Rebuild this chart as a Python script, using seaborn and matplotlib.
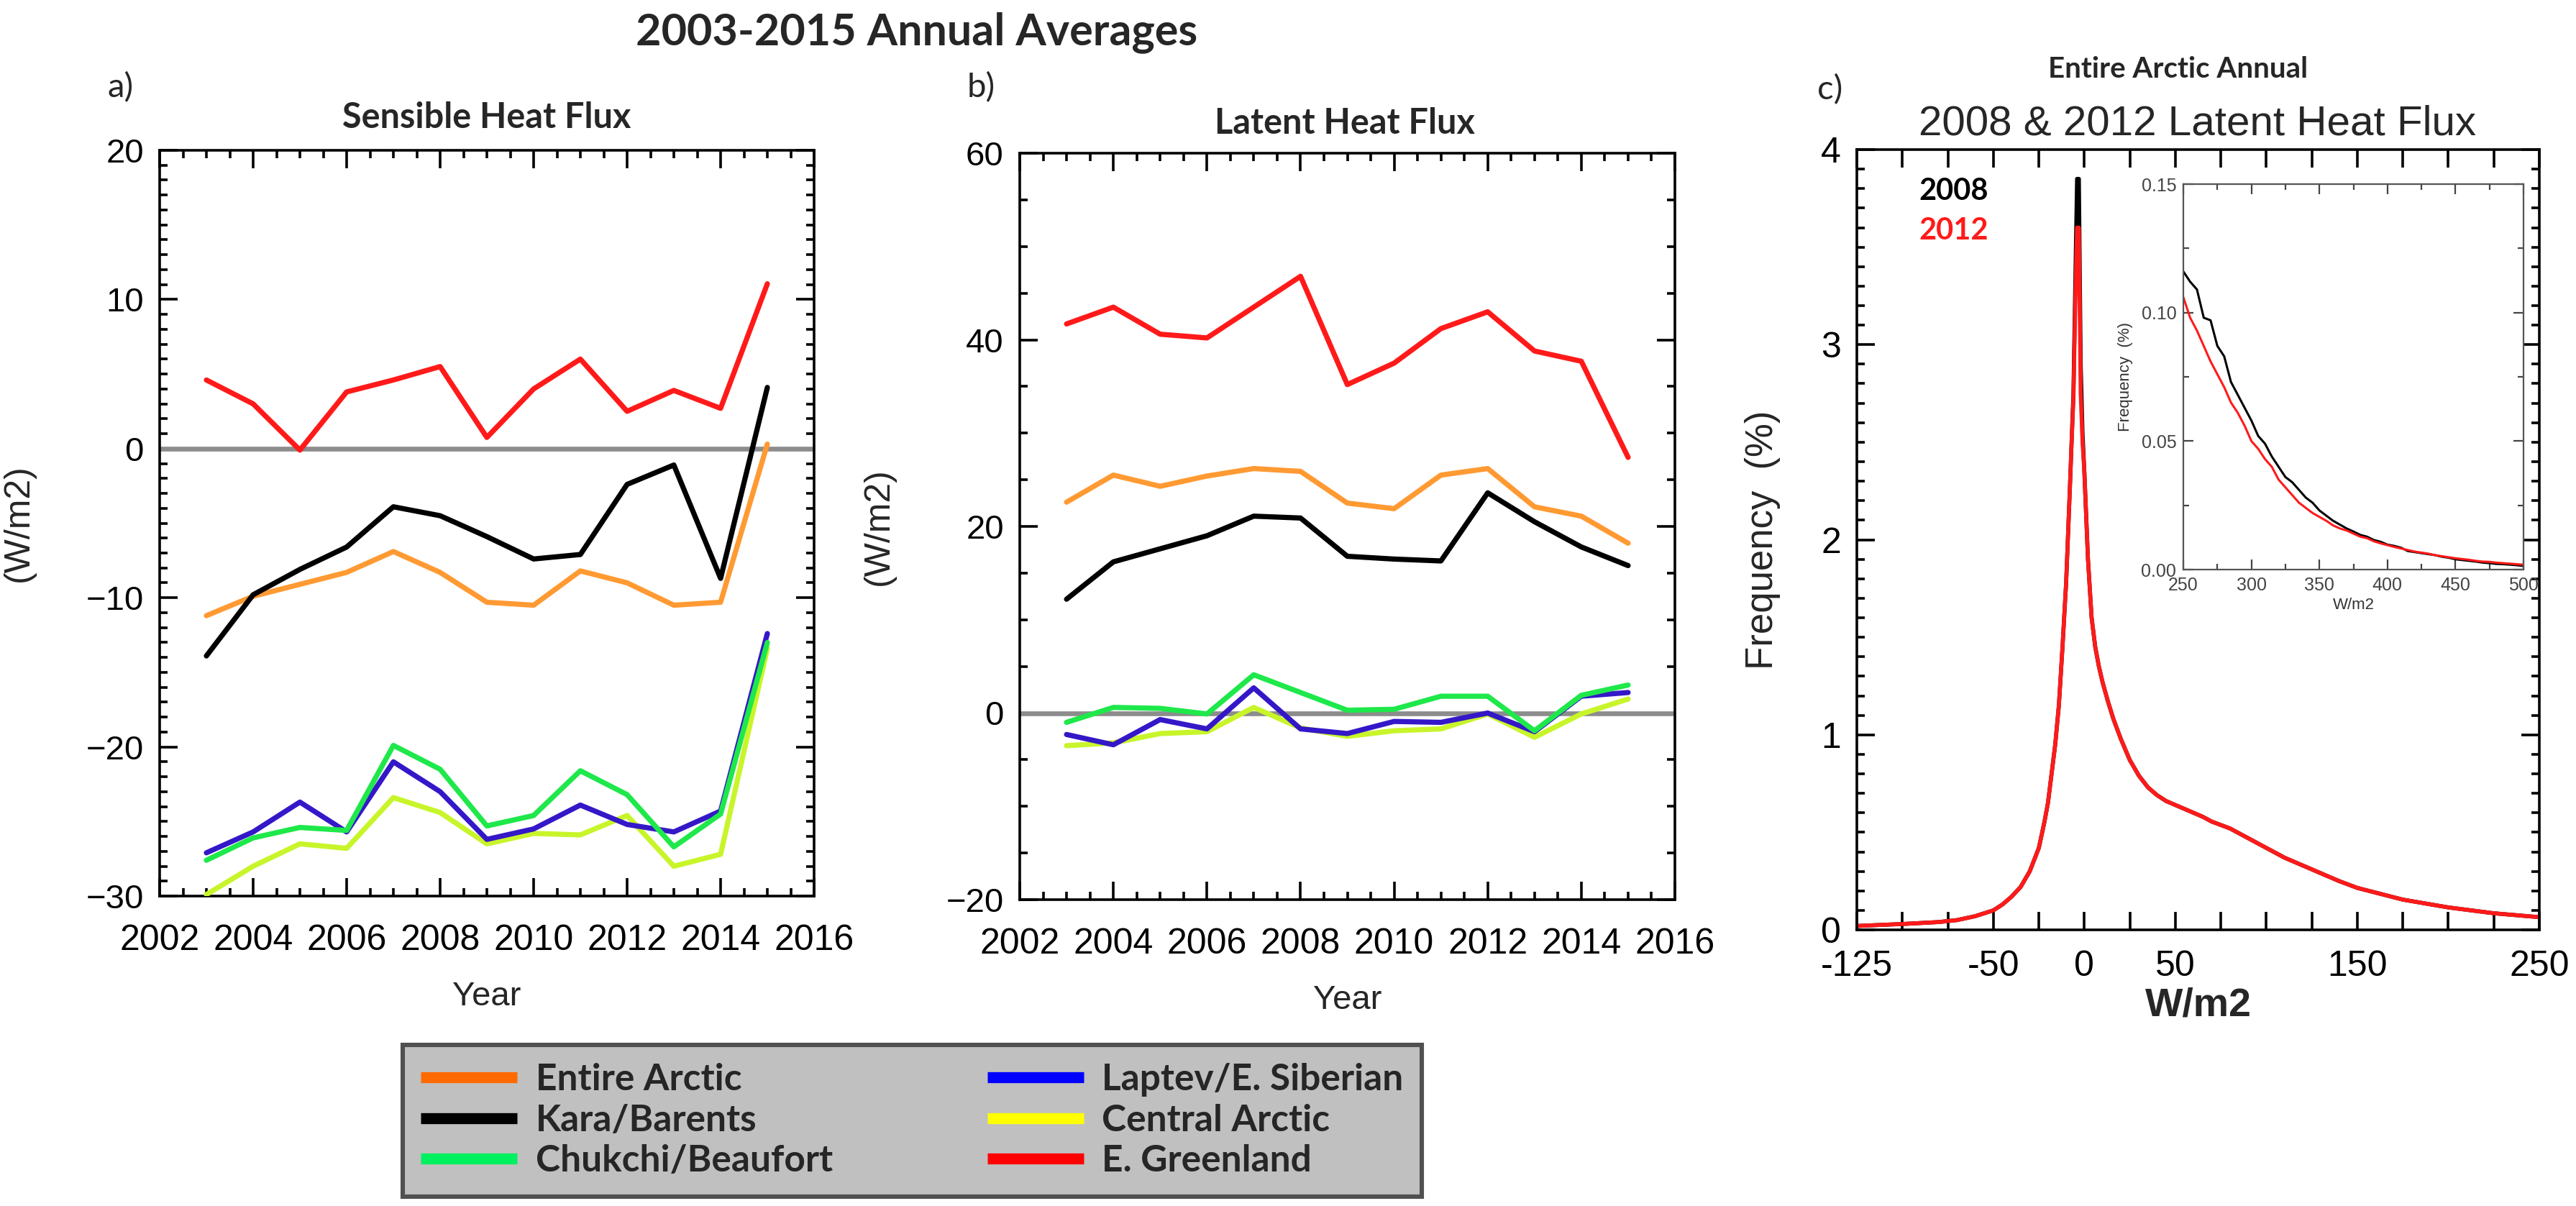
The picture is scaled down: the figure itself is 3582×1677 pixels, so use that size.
import seaborn as sns
import pandas as pd
import matplotlib.pyplot as plt
import numpy as np
from matplotlib.lines import Line2D
from matplotlib.ticker import MultipleLocator, FuncFormatter

#-----------------------------------------------------------------------------------------------------------------------
"""Data read off the figure"""
years = list(range(2003, 2016))
regions = ['Entire Arctic', 'Kara/Barents', 'Chukchi/Beaufort',
           'Laptev/E. Siberian', 'Central Arctic', 'E. Greenland']

#a) Sensible heat flux (W/m2)
sh_entire = [-11.2, -9.9, -9.1, -8.3, -6.9, -8.3, -10.3, -10.5, -8.2, -9.0, -10.5, -10.3, 0.3]
sh_kara = [-13.9, -9.8, -8.1, -6.6, -3.9, -4.5, -5.9, -7.4, -7.1, -2.4, -1.1, -8.7, 4.1]
sh_chukchi = [-27.6, -26.1, -25.4, -25.6, -19.9, -21.5, -25.3, -24.6, -21.6, -23.2, -26.7, -24.5, -13.0]
sh_laptev = [-27.1, -25.7, -23.7, -25.7, -21.0, -23.0, -26.2, -25.5, -23.9, -25.2, -25.7, -24.3, -12.4]
sh_central = [-29.9, -28.0, -26.5, -26.8, -23.4, -24.4, -26.5, -25.8, -25.9, -24.6, -28.0, -27.2, -13.4]
sh_greenland = [4.6, 3.0, -0.1, 3.8, 4.6, 5.5, 0.75, 4.0, 6.0, 2.5, 3.9, 2.7, 11.05]

#b) Latent heat flux (W/m2)
lh_entire = [22.6, 25.5, 24.3, 25.4, 26.2, 25.9, 22.5, 21.9, 25.5, 26.2, 22.1, 21.1, 18.2]
lh_kara = [12.2, 16.2, 17.6, 19.0, 21.1, 20.9, 16.8, 16.5, 16.3, 23.6, 20.5, 17.8, 15.8]
lh_chukchi = [-1.0, 0.6, 0.5, -0.1, 4.1, 2.2, 0.3, 0.4, 1.8, 1.8, -1.9, 1.9, 3.0]
lh_laptev = [-2.3, -3.4, -0.7, -1.7, 2.7, -1.7, -2.2, -0.9, -1.0, 0.0, -2.0, 1.8, 2.2]
lh_central = [-3.5, -3.2, -2.2, -2.0, 0.6, -1.6, -2.5, -1.9, -1.7, -0.1, -2.6, -0.1, 1.5]
lh_greenland = [41.7, 43.5, 40.6, 40.2, 43.5, 46.8, 35.2, 37.5, 41.2, 43.0, 38.8, 37.7, 27.4]

#c) Frequency distribution of latent heat flux, entire Arctic (%)
flux_bins = [-125, -100, -80, -70, -60, -50, -45, -40, -35, -30, -25, -22, -20, -18, -16, -14, -12,
             -10, -8, -7, -6, -5, -4, -3, -2, -1, 0, 2, 4, 6, 8, 10, 13, 16, 20, 25, 30, 35, 40,
             45, 50, 55, 60, 65, 70, 80, 90, 100, 110, 125, 140, 150, 175, 200, 225, 250]
freq_2008 = [0.02, 0.03, 0.04, 0.05, 0.07, 0.10, 0.13, 0.17, 0.22, 0.30, 0.42, 0.55, 0.65, 0.80, 0.95,
             1.15, 1.45, 1.78, 2.25, 2.5, 2.75, 3.3, 3.85, 3.85, 2.9, 2.55, 2.35, 1.9, 1.6, 1.45,
             1.35, 1.27, 1.17, 1.08, 0.98, 0.87, 0.79, 0.73, 0.69, 0.66, 0.64, 0.62, 0.60, 0.58,
             0.555, 0.52, 0.47, 0.42, 0.37, 0.31, 0.25, 0.215, 0.155, 0.115, 0.085, 0.065]
freq_2012 = [0.02, 0.03, 0.04, 0.05, 0.07, 0.10, 0.13, 0.17, 0.22, 0.30, 0.42, 0.55, 0.65, 0.80, 0.95,
             1.15, 1.45, 1.78, 2.25, 2.5, 2.72, 3.2, 3.6, 3.6, 2.75, 2.5, 2.35, 1.9, 1.6, 1.45,
             1.35, 1.27, 1.17, 1.08, 0.98, 0.87, 0.79, 0.73, 0.69, 0.66, 0.64, 0.62, 0.60, 0.58,
             0.555, 0.52, 0.47, 0.42, 0.37, 0.31, 0.25, 0.215, 0.155, 0.115, 0.085, 0.065]

#Inset: tail 250-500 W/m2
tail_bins = list(range(250, 505, 5))
tail_2008 = [0.116, 0.112, 0.109, 0.098, 0.097, 0.087, 0.083, 0.073, 0.068, 0.063, 0.058, 0.052, 0.049,
             0.044, 0.040, 0.036, 0.034, 0.031, 0.028, 0.026, 0.023, 0.021, 0.019, 0.0175, 0.016,
             0.0148, 0.0135, 0.0128, 0.0115, 0.0108, 0.0097, 0.0092, 0.0085, 0.0072, 0.0068, 0.0064,
             0.0060, 0.0056, 0.0050, 0.0046, 0.0040, 0.0037, 0.0034, 0.0031, 0.0027, 0.0025, 0.0022,
             0.0021, 0.0019, 0.0017, 0.0014]
tail_2012 = [0.106, 0.098, 0.093, 0.087, 0.081, 0.076, 0.071, 0.065, 0.061, 0.056, 0.050, 0.047, 0.043,
             0.040, 0.035, 0.032, 0.029, 0.026, 0.024, 0.022, 0.0205, 0.019, 0.0172, 0.016, 0.0152,
             0.0140, 0.0128, 0.0122, 0.0110, 0.0102, 0.0095, 0.0088, 0.0082, 0.0076, 0.0070, 0.0066,
             0.0062, 0.0056, 0.0052, 0.0048, 0.0044, 0.0041, 0.0038, 0.0034, 0.0031, 0.0030, 0.0027,
             0.0025, 0.0023, 0.0021, 0.0019]

#-----------------------------------------------------------------------------------------------------------------------
"""Building long tables for seaborn"""
sh_series = [sh_entire, sh_kara, sh_chukchi, sh_laptev, sh_central, sh_greenland]
lh_series = [lh_entire, lh_kara, lh_chukchi, lh_laptev, lh_central, lh_greenland]

def long_table(series):
    rows = []
    for name, vals in zip(regions, series):
        for yr, v in zip(years, vals):
            rows.append({'Year': yr, 'Flux': v, 'Region': name})
    return pd.DataFrame(rows)

df_sh = long_table(sh_series)
df_lh = long_table(lh_series)
df_pdf = pd.DataFrame({'W/m2': flux_bins * 2, 'Frequency': freq_2008 + freq_2012,
                       'Year': ['2008'] * len(flux_bins) + ['2012'] * len(flux_bins)})
df_tail = pd.DataFrame({'W/m2': tail_bins * 2, 'Frequency': tail_2008 + tail_2012,
                        'Year': ['2008'] * len(tail_bins) + ['2012'] * len(tail_bins)})

#-----------------------------------------------------------------------------------------------------------------------
"""Style"""
sns.set_style('ticks')
plt.rcParams['font.family'] = ['Liberation Sans', 'DejaVu Sans']
TitleFont = ['Lato', 'DejaVu Sans']

#Colours as they appear on the plotted lines
line_colors = {'Entire Arctic': '#ff9a33', 'Kara/Barents': '#000000', 'Chukchi/Beaufort': '#1ee84a',
               'Laptev/E. Siberian': '#3418c8', 'Central Arctic': '#c8f52a', 'E. Greenland': '#ff1a1a'}
#Colours used in the legend box
legend_colors = ['#ff6a00', '#000000', '#00f060', '#0000ff', '#ffff00', '#ff0000']
draw_order = ['Central Arctic', 'Laptev/E. Siberian', 'Chukchi/Beaufort', 'Entire Arctic',
              'Kara/Barents', 'E. Greenland']

W, H = 3582, 1677
fig = plt.figure(figsize=(W / 200, H / 200), dpi=200)
fig.patch.set_facecolor('white')

def box(x0, y0, x1, y1):
    return [x0 / W, 1 - y1 / H, (x1 - x0) / W, (y1 - y0) / H]

def fxy(x, y):
    return x / W, 1 - y / H

ax_a = fig.add_axes(box(222, 209, 1132, 1246))
ax_b = fig.add_axes(box(1418, 213, 2329, 1251))
ax_c = fig.add_axes(box(2582, 208, 3531, 1293))
ax_in = fig.add_axes(box(3036, 256, 3509, 792))

def idl_axes(ax, size=16, major=8, minor=4, width=1.3):
    for s in ax.spines.values():
        s.set_linewidth(width)
        s.set_color('black')
    ax.tick_params(which='both', direction='in', top=True, right=True, width=width, colors='black')
    ax.tick_params(which='major', length=major, labelsize=size)
    ax.tick_params(which='minor', length=minor)
    ax.grid(False)

#-----------------------------------------------------------------------------------------------------------------------
"""Panels a and b"""
for ax, df, ylim, ymaj, ymin in [(ax_a, df_sh, (-30, 20), 10, 1), (ax_b, df_lh, (-20, 60), 20, 5)]:
    ax.axhline(0, color='#8c8c8c', lw=2.4, zorder=1)
    sns.lineplot(data=df, x='Year', y='Flux', hue='Region', hue_order=draw_order,
                 palette=line_colors, linewidth=2.6, legend=False, ax=ax, zorder=3)
    ax.set_xlim(2002, 2016)
    ax.set_ylim(*ylim)
    ax.xaxis.set_major_locator(MultipleLocator(2))
    ax.xaxis.set_minor_locator(MultipleLocator(0.5))
    ax.yaxis.set_major_locator(MultipleLocator(ymaj))
    ax.yaxis.set_minor_locator(MultipleLocator(ymin))
    idl_axes(ax, size=17, major=9, minor=4)
    ax.tick_params(axis='x', which='major', pad=14, labelsize=18)
    ax.tick_params(axis='y', which='major', pad=8)
    ax.set_xlabel('Year', fontsize=17, labelpad=12)
    ax.set_ylabel('(W/m2)', fontsize=18)
    ax.yaxis.set_label_coords(-0.19, 0.5)

#-----------------------------------------------------------------------------------------------------------------------
"""Panel c"""
sns.lineplot(data=df_pdf, x='W/m2', y='Frequency', hue='Year', palette={'2008': 'black', '2012': '#ff1a1a'},
             linewidth=2.0, legend=False, ax=ax_c)
ax_c.set_xlim(-125, 250)
ax_c.set_ylim(0, 4)
ax_c.xaxis.set_major_locator(MultipleLocator(25))
shown = {-125, -50, 0, 50, 150, 250}
ax_c.xaxis.set_major_formatter(FuncFormatter(lambda v, p: f'{v:.0f}' if round(v) in shown else ''))
ax_c.yaxis.set_major_locator(MultipleLocator(1))
ax_c.yaxis.set_minor_locator(MultipleLocator(0.1))
idl_axes(ax_c, size=18, major=9, minor=4)
ax_c.tick_params(axis='x', which='major', pad=10)
ax_c.tick_params(axis='y', which='major', pad=8)
ax_c.set_xlabel('W/m2', fontsize=20, fontweight='bold', labelpad=2)
ax_c.set_ylabel('Frequency  (%)', fontsize=19)
ax_c.yaxis.set_label_coords(-0.112, 0.5)

fig.text(*fxy(2668, 266), '2008', color='black', fontsize=15, fontweight='bold', family=TitleFont, va='center')
fig.text(*fxy(2668, 321), '2012', color='#ff1a1a', fontsize=15, fontweight='bold', family=TitleFont, va='center')

#Inset
sns.lineplot(data=df_tail, x='W/m2', y='Frequency', hue='Year', palette={'2008': 'black', '2012': '#ff1a1a'},
             linewidth=1.1, legend=False, ax=ax_in)
ax_in.set_xlim(250, 500)
ax_in.set_ylim(0, 0.15)
ax_in.xaxis.set_major_locator(MultipleLocator(50))
ax_in.xaxis.set_minor_locator(MultipleLocator(25))
ax_in.yaxis.set_major_locator(MultipleLocator(0.05))
ax_in.yaxis.set_minor_locator(MultipleLocator(0.025))
ax_in.yaxis.set_major_formatter(FuncFormatter(lambda v, p: f'{v:.2f}'))
idl_axes(ax_in, size=9, major=5, minor=3, width=0.8)
for s in ax_in.spines.values():
    s.set_color('#555555')
ax_in.tick_params(which='both', colors='#444444')
ax_in.set_xlabel('W/m2', fontsize=8, labelpad=2, color='#333333')
ax_in.set_ylabel('Frequency  (%)', fontsize=8, labelpad=4, color='#333333')

#-----------------------------------------------------------------------------------------------------------------------
"""Titles and panel letters"""
fig.text(*fxy(1275, 45), '2003-2015 Annual Averages', fontsize=22, fontweight='bold', family=TitleFont,
         ha='center', va='center')
fig.text(*fxy(677, 164), 'Sensible Heat Flux', fontsize=17.5, fontweight='bold', family=TitleFont,
         ha='center', va='center')
fig.text(*fxy(1870, 172), 'Latent Heat Flux', fontsize=17.5, fontweight='bold', family=TitleFont,
         ha='center', va='center')
fig.text(*fxy(3029, 96), 'Entire Arctic Annual', fontsize=14.5, fontweight='bold', family=TitleFont,
         ha='center', va='center')
fig.text(*fxy(3056, 172), '2008 & 2012 Latent Heat Flux', fontsize=21, ha='center', va='center')
for letter, x, y in [('a)', 168, 122), ('b)', 1364, 122), ('c)', 2545, 125)]:
    fig.text(*fxy(x, y), letter, fontsize=17, family=TitleFont, ha='center', va='center')

#-----------------------------------------------------------------------------------------------------------------------
"""Legend"""
handles = [Line2D([0], [0], color=c, lw=5.5, solid_capstyle='butt') for c in legend_colors]
leg = fig.legend(handles, regions, ncol=2, loc='upper left', mode='expand',
                 bbox_to_anchor=box(534, 1427, 2003, 1649), frameon=True, fancybox=False,
                 prop={'family': TitleFont, 'weight': 'bold', 'size': 18.5},
                 handlelength=2.6, handletextpad=0.5, labelspacing=0.18, borderpad=0.5)
leg.get_frame().set_facecolor('#c0c0c0')
leg.get_frame().set_edgecolor('#505050')
leg.get_frame().set_linewidth(2.2)
leg.get_frame().set_alpha(1)

#-----------------------------------------------------------------------------------------------------------------------
"""Save"""
fig.savefig('out.png', dpi=200)
